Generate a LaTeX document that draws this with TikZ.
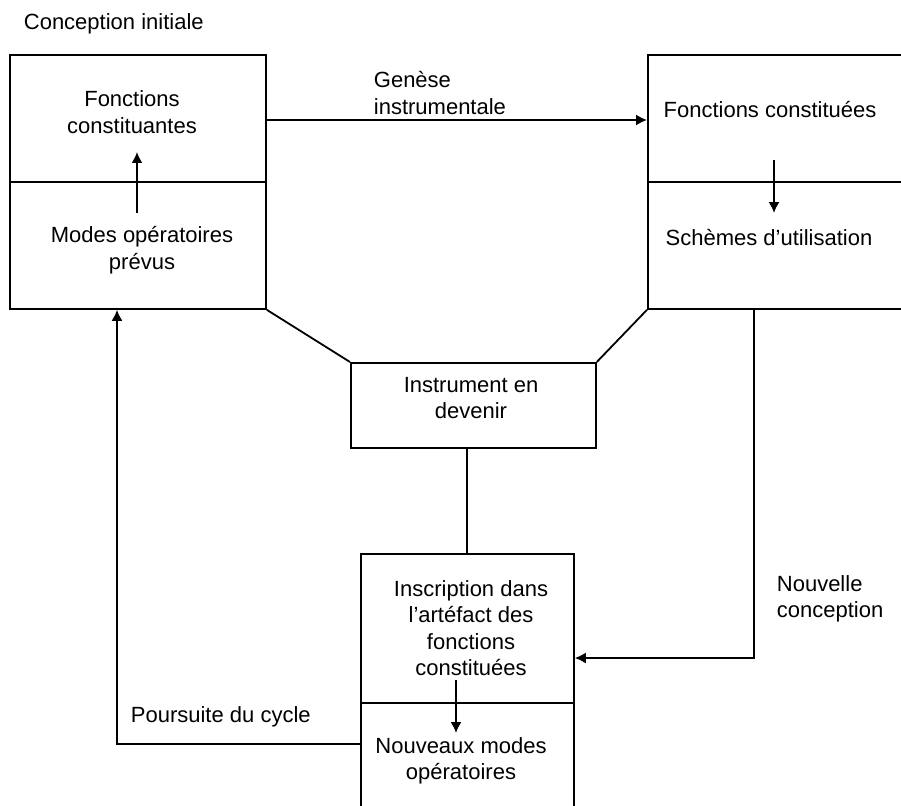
\documentclass[tikz,border=0pt]{standalone}
\usepackage{fontspec}
\setmainfont{Liberation Sans}
\usetikzlibrary{arrows.meta}
\begin{document}
\begin{tikzpicture}[x=1pt,y=-1pt,line width=1.8pt,
  box/.style={draw,line width=1.8pt,inner sep=0pt,anchor=north west},
  lbl/.style={font=\fontsize{22}{26.5}\selectfont,align=center,inner sep=0pt},
  lbll/.style={font=\fontsize{22}{26.5}\selectfont,align=left,inner sep=0pt},
  arr/.style={-{Latex[length=11pt,width=11pt]}}]
\useasboundingbox (0,0) rectangle (901,805);
\clip (0,0) rectangle (901,805);
% boxes
\node[box,minimum width=256pt,minimum height=254pt] (tl) at (9,54) {};
\node[box,minimum width=290pt,minimum height=254pt] (tr) at (647,54) {};
\node[box,minimum width=245pt,minimum height=85pt] (mid) at (350,362) {};
\node[box,minimum width=213pt,minimum height=290pt] (bot) at (360,553) {};
% dividers
\draw (tl.west |- 0,182) -- (tl.east |- 0,182);
\draw (tr.west |- 0,182) -- (tr.east |- 0,182);
\draw (bot.west |- 0,703) -- (bot.east |- 0,703);
% texts
\node[lbll,anchor=base west] (ci) at (23,30) {Conception initiale};
\node[lbl] (fc) at (132,112) {Fonctions\\constituantes};
\node[lbl] (mop) at (142,250) {Modes opératoires\\prévus};
\node[lbl] (fcs) at (770,110) {Fonctions constituées};
\node[lbl] (su) at (769,238) {Schèmes d’utilisation};
\node[lbll,anchor=west] (gi) at (373,93) {Genèse\\instrumentale};
\node[lbl] (ied) at (471,398) {Instrument en\\devenir};
\node[lbl] (ins) at (471,628) {Inscription dans\\l’artéfact des\\fonctions\\constituées};
\node[lbl] (nmo) at (461,761) {Nouveaux modes\\opératoires};
\node[lbll,anchor=west] (nc) at (776,599) {Nouvelle\\conception};
\node[lbll,anchor=base west] (pc) at (130,722) {Poursuite du cycle};
% inner arrow coordinates
\coordinate (a1) at (137,213);
\coordinate (a2) at (137,152);
\coordinate (b1) at (774,160);
\coordinate (b2) at (774,213);
\coordinate (c1) at (456,680);
\coordinate (c2) at (456,733);
\draw[arr] (a1) -- (a2);
\draw[arr] (b1) -- (b2);
\draw[arr] (c1) -- (c2);
% connectors
\draw[arr] (tl.east |- 0,120) -- (tr.west |- 0,120);
\draw (tl.south east) -- (mid.north west);
\draw (tr.south west) -- (mid.north east);
\draw (mid.south -| 467,0) -- (bot.north -| 467,0);
\draw[arr] (tr.south -| 754,0) |- (bot.east |- 0,658);
\draw[arr] (bot.west |- 0,744) -| (tl.south -| 117,0);
\end{tikzpicture}
\end{document}
